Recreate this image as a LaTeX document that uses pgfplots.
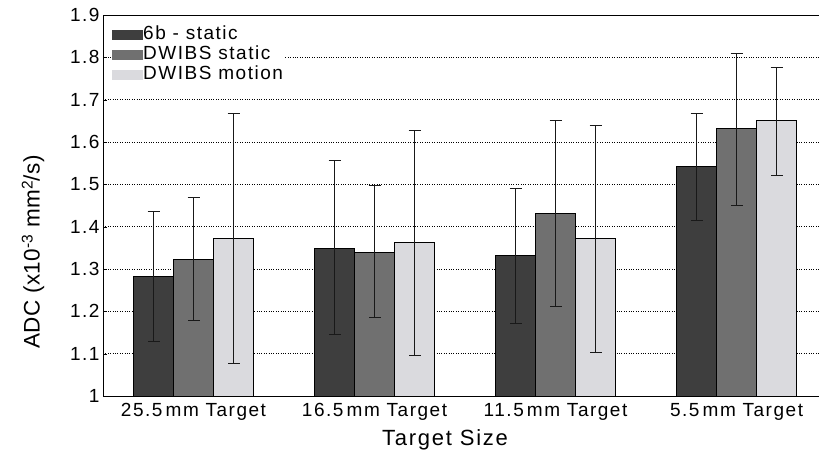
\documentclass[border=0pt]{standalone}
\usepackage{pgfplots}
\pgfplotsset{compat=1.18}
\usepackage{fontspec}
\setmainfont{Liberation Sans}[LetterSpace=8]
\newfontfamily\ylabfont{Liberation Sans}[LetterSpace=2]
\definecolor{cA}{HTML}{3E3E3E}
\definecolor{cB}{HTML}{707070}
\definecolor{cC}{HTML}{DADADE}
\pgfplotsset{myerr/.style={error bars/y dir=both, error bars/y explicit,
  error bars/error mark=|,
  error bars/error mark options={line width=1pt, mark size=6pt, color=black!90},
  error bars/error bar style={line width=1pt, color=black!90}}}
\begin{document}
\begin{tikzpicture}[x=1pt,y=1pt]
\useasboundingbox (0,0) rectangle (819,459);
\begin{axis}[
  at={(103pt,63pt)}, anchor=south west,
  width=717pt, height=381pt, scale only axis,
  xmin=0.5, xmax=4.461,
  ymin=1, ymax=1.9,
  ytick={1,1.1,1.2,1.3,1.4,1.5,1.6,1.7,1.8,1.9},
  yticklabels={1,1.1,1.2,1.3,1.4,1.5,1.6,1.7,1.8,1.9},
  xtick={1,2,3,4},
  xticklabels={25.5\,mm Target,16.5\,mm Target,11.5\,mm Target,5.5\,mm Target},
  x tick style={draw=none},
  y tick style={black},
  major tick length=4pt,
  tick align=inside,
  ytick pos=left,
  xtick pos=bottom,
  ymajorgrids,
  grid style={dotted, black, line width=0.8pt},
  axis line style={black, line width=1pt},
  yticklabel style={font=\fontsize{19}{19}\selectfont},
  xticklabel style={font=\fontsize{19}{19}\selectfont},
  ybar=0pt, bar width=40pt,
  legend cell align=left,
  legend style={at={(axis description cs:0,1)}, anchor=north west, xshift=8pt, yshift=-10pt,
    draw=none, fill=white, inner sep=1pt, row sep=2pt,
    font=\fontsize{19}{19}\selectfont,
    nodes={inner sep=0pt, text height=13.5pt, text depth=4.5pt},
    /tikz/every odd column/.append style={column sep=0pt}},
  legend image code/.code={\fill[#1,draw=none] (0pt,-5pt) rectangle (31pt,5pt);},
]
\addplot[fill=cA, draw=black, line width=0.8pt, myerr] coordinates {
  (1,1.282) += (0,0.155) -= (0,0.154)
  (2,1.349) += (0,0.208) -= (0,0.203)
  (3,1.331) += (0,0.160) -= (0,0.159)
  (4,1.542) += (0,0.126) -= (0,0.128)
};
\addplot[fill=cB, draw=black, line width=0.8pt, myerr] coordinates {
  (1,1.323) += (0,0.145) -= (0,0.145)
  (2,1.339) += (0,0.159) -= (0,0.153)
  (3,1.431) += (0,0.219) -= (0,0.219)
  (4,1.631) += (0,0.179) -= (0,0.182)
};
\addplot[fill=cC, draw=black, line width=0.8pt, myerr] coordinates {
  (1,1.372) += (0,0.296) -= (0,0.295)
  (2,1.362) += (0,0.266) -= (0,0.267)
  (3,1.372) += (0,0.268) -= (0,0.269)
  (4,1.650) += (0,0.127) -= (0,0.128)
};
\legend{6b - static, DWIBS static, DWIBS motion}
\draw[line width=2pt, black] (rel axis cs:0,1) -- (rel axis cs:1,1);
\end{axis}
\node[rotate=90, font=\ylabfont\fontsize{22.5}{22.5}\selectfont] at (33,207) {ADC (x10\raisebox{7pt}{\fontsize{15.5}{15.5}\selectfont -3} mm\raisebox{7pt}{\fontsize{15.5}{15.5}\selectfont 2}/s)};
\node[font=\fontsize{22}{22}\selectfont] at (445,19) {Target Size};
\end{tikzpicture}
\end{document}
